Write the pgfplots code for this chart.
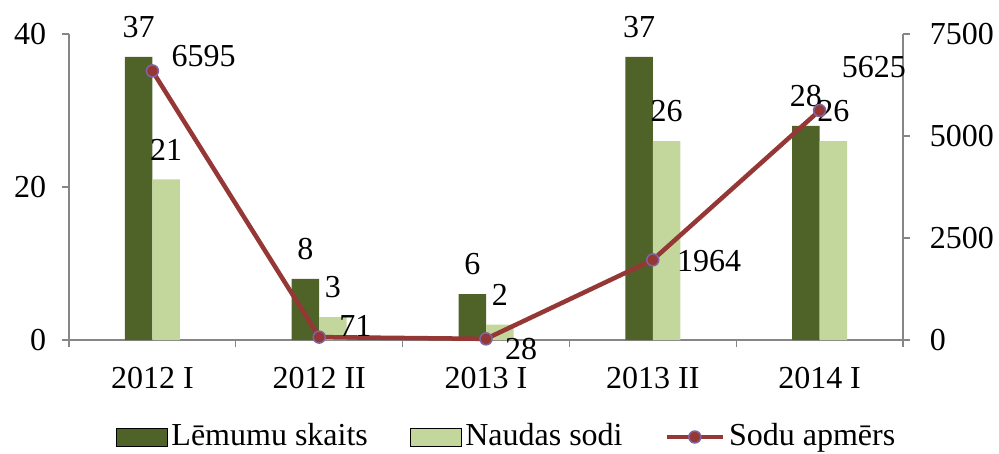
\documentclass[border=0pt]{standalone}
\usepackage{fontspec}
\setmainfont{Liberation Serif}
\usepackage{pgfplots}
\pgfplotsset{compat=1.18}
\definecolor{darkg}{HTML}{4F6228}
\definecolor{lightg}{HTML}{C3D69B}
\definecolor{linered}{HTML}{953735}
\definecolor{markpurple}{HTML}{8064A2}
\definecolor{axgray}{HTML}{868686}
\pgfplotsset{
  /pgf/number format/assume math mode=true,
  /pgf/number format/1000 sep={},
  base/.style={
    scale only axis, width=834bp, height=306bp,
    at={(69bp,114bp)}, anchor=south west,
    xmin=-0.5, xmax=4.5, clip=false,
    axis line style={axgray, line width=1.3bp, -},
    every outer x axis line/.append style={-},
    every outer y axis line/.append style={-},
    tick style={axgray, line width=1.3bp},
    tick align=outside,
    major tick length=7bp, minor tick length=7bp,
    scaled y ticks=false,
  },
  barlegend/.style={legend image code/.code={\fill[##1] (0bp,-9bp) rectangle (51bp,9bp);}},
  linelegend/.style={legend image code/.code={\draw[mark repeat=2, mark phase=2, ##1] plot coordinates {(0bp,0bp) (28bp,0bp) (56bp,0bp)};}},
}
\begin{document}
\fontsize{32bp}{38bp}\selectfont
\begin{tikzpicture}
\useasboundingbox (0,0) rectangle (999bp,454bp);
\begin{axis}[base,
  axis y line*=left, axis x line*=bottom,
  ymin=0, ymax=40, ytick={0,20,40},
  yticklabel style={xshift=-5bp},
  xtick={0,1,2,3,4},
  xticklabels={2012 I,2012 II,2013 I,2013 II,2014 I},
  xticklabel style={yshift=-9bp},
  major x tick style={draw=none},
  minor xtick={-0.5,0.5,1.5,2.5,3.5,4.5},
  ybar=0pt, bar width=27.5bp,
  nodes near coords,
  nodes near coords style={anchor=south, yshift=8bp, black},
]
\addplot[fill=darkg, draw=none] coordinates {(0,37) (1,8) (2,6) (3,37) (4,28)};
\addplot[fill=lightg, draw=none] coordinates {(0,21) (1,3) (2,2) (3,26) (4,26)};
\end{axis}
\begin{axis}[base,
  axis y line*=right, axis x line=none, xtick=\empty,
  ymin=0, ymax=7500, ytick={0,2500,5000,7500},
  yticklabel style={xshift=9bp},
  legend columns=3,
  legend style={draw=none, fill=none, at={(0.526,-0.317)}, anchor=center,
    nodes={inner xsep=4bp},
    /tikz/every even column/.append style={column sep=38bp}},
]
\addlegendimage{barlegend, fill=darkg}
\addlegendentry{Lēmumu skaits}
\addlegendimage{barlegend, fill=lightg}
\addlegendentry{Naudas sodi}
\addplot[linered, line width=4.5bp, mark=*, mark size=6bp,
  mark options={fill=linered, draw=markpurple, line width=1.5bp}, linelegend]
  coordinates {(0,6595) (1,71) (2,28) (3,1964) (4,5625)};
\addlegendentry{Sodu apmērs}
\node[anchor=base west, inner sep=0pt, xshift=19bp, yshift=4bp] at (axis cs:0,6595) {6595};
\node[anchor=base west, inner sep=0pt, xshift=20bp, yshift=1bp] at (axis cs:1,71) {71};
\node[anchor=base west, inner sep=0pt, xshift=19bp, yshift=-21bp] at (axis cs:2,28) {28};
\node[anchor=base west, inner sep=0pt, xshift=24bp, yshift=-12bp] at (axis cs:3,1964) {1964};
\node[anchor=base west, inner sep=0pt, xshift=22bp, yshift=33bp] at (axis cs:4,5625) {5625};
\end{axis}
\end{tikzpicture}
\end{document}
